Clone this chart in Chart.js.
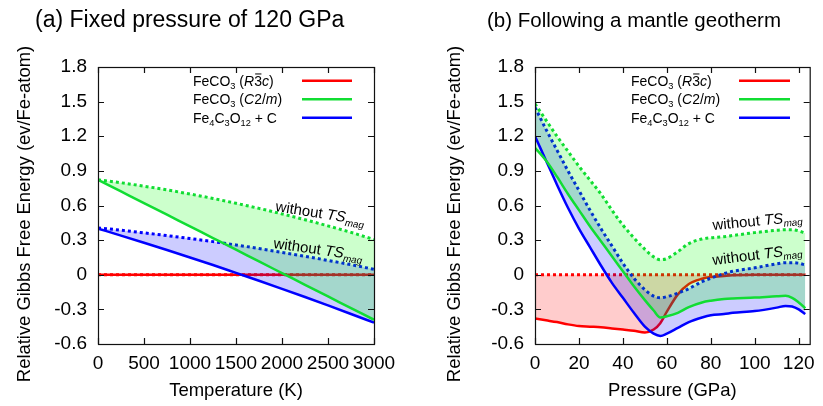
<!DOCTYPE html>
<html>
<head>
<meta charset="utf-8">
<script src="https://cdn.jsdelivr.net/npm/chart.js@4.4.1/dist/chart.umd.min.js"></script>
<style>
  html, body { margin: 0; padding: 0; background: #fff; }
  #wrap { position: relative; width: 823px; height: 406px; }
  canvas { position: absolute; top: 0; }
  #chartA { left: 0; }
  #chartB { left: 411px; }
</style>
</head>
<body>
<div id="wrap">
  <canvas id="chartA" width="411" height="406"></canvas>
  <canvas id="chartB" width="412" height="406"></canvas>
</div>
<script>
/* ====== Data: (a) fixed pressure of 120 GPa ====== */
const tempK      = [0, 250, 500, 750, 1000, 1250, 1500, 1750, 2000, 2250, 2500, 2750, 3000];
const aR3c       = [0, 0, 0, 0, 0, 0, 0, 0, 0, 0, 0, 0, 0];
const aR3cNoMag  = [0, 0, 0, 0, 0, 0, 0, 0, 0, 0, 0, 0, 0];
const aC2m       = [0.823, 0.722, 0.621, 0.52, 0.419, 0.318, 0.217, 0.115, 0.014, -0.087, -0.188, -0.289, -0.39];
const aC2mNoMag  = [0.823, 0.797, 0.767, 0.735, 0.699, 0.661, 0.619, 0.575, 0.527, 0.477, 0.423, 0.367, 0.305];
const aFe4       = [0.40, 0.339, 0.277, 0.214, 0.149, 0.084, 0.016, -0.052, -0.122, -0.193, -0.266, -0.34, -0.415];
const aFe4NoMag  = [0.406, 0.386, 0.363, 0.339, 0.314, 0.287, 0.258, 0.227, 0.194, 0.16, 0.124, 0.087, 0.047];

/* ====== Data: (b) following a mantle geotherm ====== */
const pressGPa   = [0, 5, 10, 15, 20, 25, 30, 35, 40, 45, 50, 54, 57, 60, 65, 70, 76, 80, 86, 90, 100, 110, 114, 117, 120, 123];
const bR3c       = [-0.38, -0.395, -0.41, -0.43, -0.445, -0.45, -0.455, -0.465, -0.475, -0.485, -0.50, -0.475, -0.42, -0.32, -0.17, -0.08, -0.035, -0.02, -0.01, -0.005, 0, 0, 0, 0, 0, 0];
const bR3cNoMag  = [0, 0, 0, 0, 0, 0, 0, 0, 0, 0, 0, 0, 0, 0, 0, 0, 0, 0, 0, 0, 0, 0, 0, 0, 0, 0];
const bC2m       = [1.10, 0.99, 0.85, 0.70, 0.56, 0.42, 0.29, 0.16, 0.03, -0.10, -0.22, -0.31, -0.37, -0.36, -0.33, -0.28, -0.24, -0.225, -0.21, -0.205, -0.198, -0.186, -0.183, -0.20, -0.24, -0.29];
const bC2mNoMag  = [1.48, 1.34, 1.20, 1.07, 0.94, 0.82, 0.70, 0.56, 0.43, 0.32, 0.22, 0.155, 0.13, 0.14, 0.20, 0.27, 0.31, 0.32, 0.33, 0.34, 0.365, 0.385, 0.39, 0.39, 0.38, 0.36];
const bFe4       = [1.20, 0.99, 0.78, 0.58, 0.40, 0.24, 0.08, -0.07, -0.20, -0.33, -0.45, -0.51, -0.53, -0.51, -0.46, -0.41, -0.37, -0.35, -0.34, -0.33, -0.315, -0.285, -0.27, -0.275, -0.30, -0.34];
const bFe4NoMag  = [1.45, 1.26, 1.08, 0.90, 0.73, 0.56, 0.40, 0.25, 0.10, -0.03, -0.13, -0.185, -0.20, -0.19, -0.16, -0.12, -0.06, -0.03, 0.01, 0.03, 0.06, 0.095, 0.105, 0.105, 0.10, 0.085];

/* ====== Ticks ====== */
const tempTicks   = [0, 500, 1000, 1500, 2000, 2500, 3000];
const tempLabels  = ['0', '500', '1000', '1500', '2000', '2500', '3000'];
const pressTicks  = [0, 20, 40, 60, 80, 100, 120];
const pressLabels = ['0', '20', '40', '60', '80', '100', '120'];
const yTickVals   = [-0.6, -0.3, 0, 0.3, 0.6, 0.9, 1.2, 1.5, 1.8];
const yTickLabels = ['-0.6', '-0.3', '0', '0.3', '0.6', '0.9', '1.2', '1.5', '1.8'];

/* ====== Style ====== */
const FONT = '"Liberation Sans", Arial, Helvetica, sans-serif';
Chart.defaults.font.family = FONT;
Chart.defaults.color = '#000';

const RED = '#ff0000', GREEN = '#11dd33', BLUE = '#0000ff';
const RED_FILL = 'rgba(255,0,0,0.2)', GREEN_FILL = 'rgba(0,255,0,0.2)', BLUE_FILL = 'rgba(0,0,255,0.2)';
const Y_TITLE = 'Relative Gibbs Free Energy (ev/Fe-atom)';

/* ====== Legend / label text pieces ====== */
const legR3c = [{ t: 'FeCO' }, { t: '3', sub: true }, { t: ' (' }, { t: 'R', it: true }, { t: '3', over: true }, { t: 'c', it: true }, { t: ')' }];
const legC2m = [{ t: 'FeCO' }, { t: '3', sub: true }, { t: ' (' }, { t: 'C', it: true }, { t: '2/' }, { t: 'm', it: true }, { t: ')' }];
const legFe4 = [{ t: 'Fe' }, { t: '4', sub: true }, { t: 'C' }, { t: '3', sub: true }, { t: 'O' }, { t: '12', sub: true }, { t: ' + C' }];
const noMag  = [{ t: 'without ' }, { t: 'TS', it: true }, { t: 'mag', it: true, sub: true }];

function drawRich(ctx, parts, x, y, size) {
  ctx.textBaseline = 'alphabetic';
  ctx.textAlign = 'left';
  parts.forEach(p => {
    const fs = p.sub ? size * 0.66 : size;
    ctx.font = (p.it ? 'italic ' : '') + fs + 'px ' + FONT;
    const dy = p.sub ? size * 0.24 : 0;
    ctx.fillText(p.t, x, y + dy);
    const w = ctx.measureText(p.t).width;
    if (p.over) {
      ctx.fillRect(x + 1, y - size * 0.86, w - 1.5, 1);
    }
    x += w;
  });
}

/* ====== Panel decorations: frame, inner ticks, titles, legend, notes ====== */
const panelText = {
  id: 'panelText',
  afterDraw(chart, args, opts) {
    const { ctx, chartArea: a, scales: { x, y } } = chart;
    ctx.save();
    ctx.strokeStyle = '#111';
    ctx.lineWidth = 1.2;
    ctx.strokeRect(a.left + 0.5, a.top + 0.5, a.right - a.left, a.bottom - a.top);
    ctx.beginPath();
    x.ticks.forEach(t => {
      const px = Math.round(x.getPixelForValue(t.value)) + 0.5;
      ctx.moveTo(px, a.bottom); ctx.lineTo(px, a.bottom - 6);
      ctx.moveTo(px, a.top); ctx.lineTo(px, a.top + 6);
    });
    y.ticks.forEach(t => {
      const py = Math.round(y.getPixelForValue(t.value)) + 0.5;
      ctx.moveTo(a.left, py); ctx.lineTo(a.left + 6, py);
      ctx.moveTo(a.right, py); ctx.lineTo(a.right - 6, py);
    });
    ctx.stroke();

    // panel title
    ctx.fillStyle = '#000';
    ctx.font = opts.titleSize + 'px ' + FONT;
    ctx.textAlign = 'left';
    ctx.textBaseline = 'alphabetic';
    ctx.fillText(opts.title, opts.titleX, 27);

    // y axis title
    ctx.save();
    ctx.translate(opts.yTitleX, 214);
    ctx.rotate(-Math.PI / 2);
    ctx.font = '18.4px ' + FONT;
    ctx.textAlign = 'center';
    ctx.textBaseline = 'middle';
    ctx.fillText(Y_TITLE, 0, 0);
    ctx.restore();

    // legend
    const rows = [[legR3c, RED], [legC2m, GREEN], [legFe4, BLUE]];
    rows.forEach(([parts, col], i) => {
      const ly = 80.7 + i * 18.5;
      ctx.fillStyle = '#000';
      drawRich(ctx, parts, opts.legX, ly + 4.8, 14);
      ctx.strokeStyle = col;
      ctx.lineWidth = 2.5;
      ctx.beginPath();
      ctx.moveTo(opts.lineX0, ly); ctx.lineTo(opts.lineX1, ly);
      ctx.stroke();
    });

    // "without TSmag" notes
    ctx.fillStyle = '#000';
    opts.notes.forEach(n => {
      ctx.save();
      ctx.translate(n.x, n.y);
      ctx.rotate(n.angle * Math.PI / 180);
      drawRich(ctx, noMag, 0, 0, 15);
      ctx.restore();
    });
    ctx.restore();
  }
};

function pts(xs, ys) { return xs.map((x, i) => ({ x, y: ys[i] })); }

function buildDatasets(xs, r3c, r3cNoMag, c2m, c2mNoMag, fe4, fe4NoMag) {
  const base = { pointRadius: 0, borderWidth: 2.5, cubicInterpolationMode: 'monotone', fill: false };
  const dots = { borderWidth: 3, borderDash: [3, 3] };
  // index 0 is drawn last (on top); fills are drawn with their own dataset
  return [
    { ...base, label: 'FeCO3 (C2/m)', data: pts(xs, c2m), borderColor: GREEN },
    { ...base, label: 'Fe4C3O12 + C', data: pts(xs, fe4), borderColor: BLUE },
    { ...base, ...dots, label: 'FeCO3 (C2/m) no TSmag', data: pts(xs, c2mNoMag), borderColor: GREEN,
      fill: { target: 0, above: GREEN_FILL, below: GREEN_FILL } },
    { ...base, ...dots, label: 'Fe4C3O12 + C no TSmag', data: pts(xs, fe4NoMag), borderColor: BLUE,
      fill: { target: 1, above: BLUE_FILL, below: BLUE_FILL } },
    { ...base, label: 'FeCO3 (R-3c)', data: pts(xs, r3c), borderColor: RED,
      fill: { target: 5, above: RED_FILL, below: RED_FILL } },
    { ...base, ...dots, label: 'FeCO3 (R-3c) no TSmag', data: pts(xs, r3cNoMag), borderColor: RED }
  ];
}

function buildOptions(p) {
  return {
    responsive: false,
    animation: false,
    events: [],
    layout: { padding: { top: 67, right: p.rightPad, bottom: 0, left: 0 } },
    plugins: {
      legend: { display: false },
      tooltip: { enabled: false },
      panelText: p.text
    },
    scales: {
      x: {
        type: 'linear', min: 0, max: p.xMax,
        grid: { display: false, drawTicks: false },
        border: { display: false },
        afterBuildTicks: s => { s.ticks = p.xTicks.map(v => ({ value: v })); },
        afterFit: s => { s.height = 62; },
        ticks: { font: { size: 19 }, padding: 8, color: '#000', maxRotation: 0, autoSkip: false,
                 callback: (v, i) => p.xLabels[i] },
        title: { display: true, text: p.xTitle, color: '#000', font: { size: 18.5 }, padding: { top: 0, bottom: 4 } }
      },
      y: {
        min: -0.6, max: 1.8,
        grid: { display: false, drawTicks: false },
        border: { display: false },
        afterBuildTicks: s => { s.ticks = yTickVals.map(v => ({ value: v })); },
        afterFit: s => { s.width = p.yWidth; },
        ticks: { font: { size: 19 }, padding: 11, color: '#000', callback: (v, i) => yTickLabels[i] },
        title: { display: false }
      }
    }
  };
}

/* ====== Panel (a) ====== */
new Chart(document.getElementById('chartA'), {
  type: 'line',
  data: { datasets: buildDatasets(tempK, aR3c, aR3cNoMag, aC2m, aC2mNoMag, aFe4, aFe4NoMag) },
  options: buildOptions({
    xMax: 3000, xTicks: tempTicks, xLabels: tempLabels, xTitle: 'Temperature (K)',
    yWidth: 98, rightPad: 37,
    text: {
      title: '(a) Fixed pressure of 120 GPa', titleX: 35, titleSize: 23, yTitleX: 25,
      legX: 193, lineX0: 302, lineX1: 352,
      notes: [{ x: 275, y: 211, angle: 9 }, { x: 273, y: 248, angle: 8 }]
    }
  }),
  plugins: [panelText]
});

/* ====== Panel (b) ====== */
new Chart(document.getElementById('chartB'), {
  type: 'line',
  data: { datasets: buildDatasets(pressGPa, bR3c, bR3cNoMag, bC2m, bC2mNoMag, bFe4, bFe4NoMag) },
  options: buildOptions({
    xMax: 125, xTicks: pressTicks, xLabels: pressLabels, xTitle: 'Pressure (GPa)',
    yWidth: 124, rightPad: 11,
    text: {
      title: '(b) Following a mantle geotherm', titleX: 76, titleSize: 20.5, yTitleX: 44,
      legX: 220, lineX0: 328, lineX1: 379,
      notes: [{ x: 302, y: 230, angle: -5.5 }, { x: 302, y: 265, angle: -7 }]
    }
  }),
  plugins: [panelText]
});
</script>
</body>
</html>
